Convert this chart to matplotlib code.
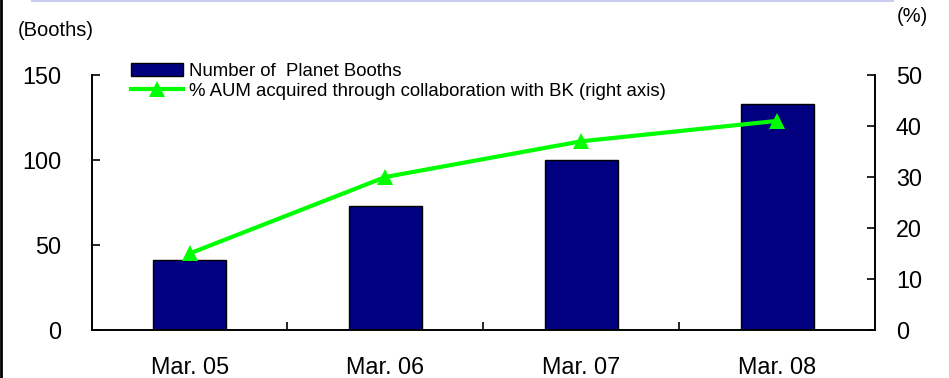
import matplotlib
matplotlib.use("Agg")
import matplotlib.pyplot as plt
from matplotlib.lines import Line2D
from matplotlib.ticker import FixedLocator

plt.rcParams['font.family'] = ['Liberation Sans', 'DejaVu Sans']

categories = ["Mar. 05", "Mar. 06", "Mar. 07", "Mar. 08"]
booths = [41, 73, 100, 133]
aum_pct = [15, 30, 37, 41]
left_ticks = [0, 50, 100, 150]
right_ticks = [0, 10, 20, 30, 40, 50]

fig = plt.figure(figsize=(9.49, 3.78), dpi=100)
ax = fig.add_axes([0.0966, 0.127, 0.8254, 0.6746])
ax2 = ax.twinx()

x = list(range(len(categories)))
bars = ax.bar(x, booths, width=0.373, color="#000080", edgecolor="black",
              linewidth=1.0, label="Number of  Planet Booths", zorder=2)
line, = ax2.plot(x, aum_pct, color="#00ff00", linewidth=3.0, marker="^",
                 markersize=12, markeredgewidth=0, zorder=3,
                 label="% AUM acquired through collaboration with BK (right axis)")

ax.set_xlim(-0.5, len(categories) - 0.5)
ax.set_ylim(0, 150)
ax2.set_ylim(0, 50)

ax.set_xticks(x)
ax.set_xticklabels(categories, fontsize=16.8)
ax.xaxis.set_minor_locator(FixedLocator([i + 0.5 for i in range(len(categories) - 1)]))
ax.tick_params(axis="x", which="major", length=0, pad=19)
ax.tick_params(axis="x", which="minor", direction="in", length=6, width=1.2)

ax.set_yticks(left_ticks)
ax.tick_params(axis="y", direction="in", length=6, width=1.2, labelsize=16.8, pad=22)
ax2.set_yticks(right_ticks)
ax2.tick_params(axis="y", direction="in", length=6, width=1.2, labelsize=16.8, pad=15)

for a in (ax, ax2):
    a.spines["top"].set_visible(False)
    for s in ("left", "right", "bottom"):
        a.spines[s].set_linewidth(1.2)

fig.text(0.019, 0.918, "(Booths)", fontsize=14.5, ha="left", va="center")
fig.text(0.945, 0.957, "(%)", fontsize=14.5, ha="left", va="center")

ax2.legend([bars, line], [bars.get_label(), line.get_label()],
           loc="upper left", bbox_to_anchor=(0.041, 1.075), frameon=False,
           fontsize=13.4, handlelength=2.8, handletextpad=0.3,
           labelspacing=0.12, borderaxespad=0)

# frame pieces along the figure edges
fig.add_artist(Line2D([0.0015, 0.0015], [0, 1], color="black", linewidth=2.0,
                      transform=fig.transFigure))
fig.add_artist(Line2D([0.034, 0.941], [0.998, 0.998], color="#ccccf2",
                      linewidth=1.5, transform=fig.transFigure))

fig.savefig("out.png", dpi=100)
